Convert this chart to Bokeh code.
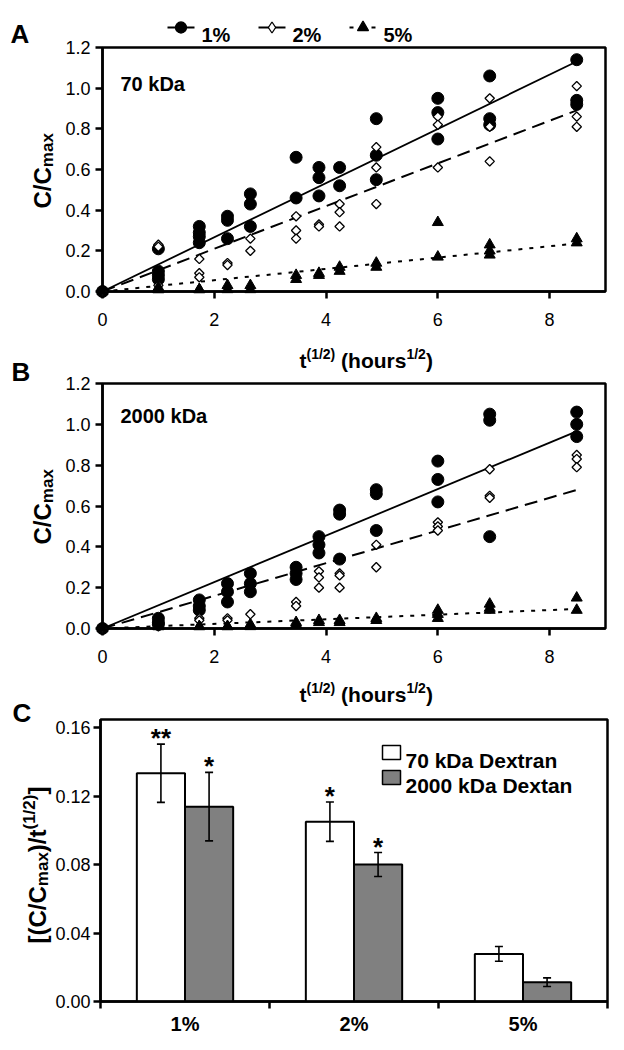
import math
from bokeh.plotting import figure
from bokeh.models import (ColumnDataSource, Range1d, FixedTicker, NumeralTickFormatter,
                          Label, Whisker, TeeHead, GridBox)
from bokeh.embed import file_html
from bokeh.resources import INLINE
from bokeh.core.properties import value

FONT = "Liberation Sans"

# ---------------- data ----------------
hours = [0, 1, 3, 5, 7, 12, 15, 18, 24, 36, 48, 72]
x_ticks = [0, 2, 4, 6, 8]
y_ticks_ab = [0.0, 0.2, 0.4, 0.6, 0.8, 1.0, 1.2]

# Panel A (70 kDa): replicate C/Cmax values per time point
a_1pct = [[0], [0.21, 0.10, 0.08, 0.06], [0.32, 0.29, 0.27, 0.24], [0.37, 0.35, 0.26],
          [0.48, 0.43, 0.32], [0.66, 0.46], [0.61, 0.56, 0.47], [0.61, 0.52],
          [0.85, 0.67, 0.55], [0.95, 0.88, 0.75], [1.06, 0.85, 0.82], [1.14, 0.94, 0.92]]
a_2pct = [[0], [0.23, 0.22, 0.03], [0.16, 0.09, 0.07], [0.14, 0.13], [0.26, 0.20],
          [0.37, 0.30, 0.26], [0.33, 0.32], [0.43, 0.39, 0.32], [0.71, 0.61, 0.43],
          [0.86, 0.82, 0.61], [0.95, 0.81, 0.64], [1.01, 0.86, 0.81]]
a_5pct = [[0], [0.02, 0.01, 0.01], [0.01, 0.01], [0.03, 0.01], [0.03, 0.01], [0.08, 0.06],
          [0.09, 0.08], [0.12, 0.10], [0.14, 0.12], [0.34, 0.17], [0.23, 0.20, 0.18],
          [0.26, 0.24]]

# Panel B (2000 kDa)
b_1pct = [[0], [0.05, 0.03, 0.02], [0.14, 0.11, 0.09], [0.22, 0.18, 0.13], [0.27, 0.22, 0.18],
          [0.30, 0.27, 0.24], [0.45, 0.41, 0.37], [0.58, 0.56, 0.34], [0.68, 0.66, 0.48],
          [0.82, 0.73, 0.62], [1.05, 1.02, 0.45], [1.06, 1.00, 0.94]]
b_2pct = [[0], [0.01], [0.05, 0.04], [0.05, 0.04], [0.07], [0.13, 0.11], [0.28, 0.25, 0.20],
          [0.27, 0.26, 0.20], [0.41, 0.30], [0.52, 0.50, 0.48], [0.78, 0.65, 0.64],
          [0.85, 0.83, 0.79]]
b_5pct = [[0], [0.01, 0.01], [0.01, 0.01], [0.01, 0.01], [0.02, 0.01], [0.03, 0.02],
          [0.04, 0.03], [0.04, 0.03], [0.05, 0.04], [0.09, 0.07, 0.05], [0.12, 0.10, 0.09],
          [0.15, 0.09]]

# Panel C: release rate [(C/Cmax)/t^(1/2)]
categories = ["1%", "2%", "5%"]
rate_70 = [0.1333, 0.1050, 0.0278]
err_70 = [0.0170, 0.0115, 0.0043]
rate_2000 = [0.1138, 0.0800, 0.0113]
err_2000 = [0.0200, 0.0070, 0.0025]
sig_70 = ["**", "*", ""]
sig_2000 = ["*", "*", ""]
y_ticks_c = [0.0, 0.04, 0.08, 0.12, 0.16]

series_labels = ["1%", "2%", "5%"]
bar_labels = ["70 kDa Dextran", "2000 kDa Dextan"]

# ---------------- helpers ----------------
W = {' ': 278, '(': 333, ')': 333, '/': 278, '[': 333, ']': 333, '%': 889, '.': 278, '*': 389,
     'A': 722, 'B': 722, 'C': 722, 'D': 722, 'a': 556, 'e': 556, 'h': 611, 'k': 556,
     'm': 889, 'n': 611, 'o': 611, 'r': 389, 's': 556, 't': 333, 'u': 611, 'x': 556}


def tw(s, size):
    return sum(W.get(c, 556) for c in s) / 1000.0 * size


def flatten(groups):
    xs, ys = [], []
    for h, vals in zip(hours, groups):
        for v in vals:
            xs.append(math.sqrt(h))
            ys.append(v)
    return xs, ys


def style(p):
    p.frame_align = False
    p.xgrid.visible = False
    p.ygrid.visible = False
    p.outline_line_color = "black"
    p.outline_line_width = 2.5
    p.outline_line_alpha = 1.0
    p.background_fill_color = "white"
    p.border_fill_color = "white"
    for ax in (p.xaxis[0], p.yaxis[0]):
        ax.axis_line_width = 2.5
        ax.axis_line_color = "black"
        ax.major_tick_line_width = 2.5
        ax.major_tick_line_color = "black"
        ax.major_tick_out = 7
        ax.major_tick_in = 0
        ax.minor_tick_line_color = None
        ax.major_label_text_font = FONT
        ax.major_label_text_font_size = "18px"
        ax.major_label_text_color = "black"


PAGE_W, PAGE_H = 624, 1049
t_max = math.sqrt(hours[-1])
DASHES = ["solid", "13 7", "4 7"]
WIDTHS = [1.8, 2.0, 2.0]


def scatter_panel(d1, d2, d5, slopes, border_top, frame_h, border_bottom):
    xr, yr = (0, 9), (0, 1.2)
    p = figure(frame_width=503, frame_height=frame_h, min_border_left=102, min_border_right=19,
               min_border_top=border_top, min_border_bottom=border_bottom,
               x_range=Range1d(*xr), y_range=Range1d(*yr), tools="",
               output_backend="svg", toolbar_location=None)
    style(p)
    p.xaxis.ticker = FixedTicker(ticks=x_ticks)
    p.yaxis.ticker = FixedTicker(ticks=y_ticks_ab)
    p.yaxis.formatter = NumeralTickFormatter(format="0.0")
    p.xaxis.major_label_standoff = 14
    p.yaxis.major_label_standoff = 5

    for s, dsh, lw in zip(slopes, DASHES, WIDTHS):
        p.line([0, t_max], [0, s * t_max], line_color="black", line_width=lw, line_dash=dsh)

    x1, y1 = flatten(d1)
    x2, y2 = flatten(d2)
    x5, y5 = flatten(d5)
    p.scatter(x1, y1, marker="circle", size=12, fill_color="black", line_color="black",
              level="overlay")
    p.scatter(x2, y2, marker="square", angle=math.pi / 4, size=6.6, fill_color="white",
              line_color="black", line_width=1.3, level="overlay")
    p.scatter(x5, y5, marker="triangle", size=11, fill_color="black", line_color="black",
              level="overlay")
    return p


# canvas A: 0-370, canvas B: 370-714, canvas C: 714-1049
pA = scatter_panel(a_1pct, a_2pct, a_5pct, rate_70, border_top=47, frame_h=244,
                   border_bottom=79)
pB = scatter_panel(b_1pct, b_2pct, b_5pct, rate_2000, border_top=13, frame_h=245,
                   border_bottom=86)

# ---------------- panel C ----------------
xrc, yrc = (0, len(categories)), (0, 0.1647)
pC = figure(frame_width=507, frame_height=282, min_border_left=100, min_border_right=17,
            min_border_top=5, min_border_bottom=48,
            x_range=Range1d(*xrc), y_range=Range1d(*yrc), tools="",
            output_backend="svg", toolbar_location=None)
style(pC)
centers = [i + 0.5 for i in range(len(categories))]
pC.xaxis.ticker = FixedTicker(ticks=centers, minor_ticks=list(range(len(categories) + 1)))
pC.xaxis.major_label_overrides = {c: lab for c, lab in zip(centers, categories)}
pC.xaxis.major_tick_out = 0
pC.xaxis.minor_tick_line_color = "black"
pC.xaxis.minor_tick_line_width = 2.5
pC.xaxis.minor_tick_out = 7
pC.xaxis.minor_tick_in = 0
pC.xaxis.major_label_text_font_style = "bold"
pC.xaxis.major_label_text_font_size = "20px"
pC.xaxis.major_label_standoff = 4
pC.yaxis.ticker = FixedTicker(ticks=y_ticks_c)
pC.yaxis.formatter = NumeralTickFormatter(format="0.00")
pC.yaxis.major_label_standoff = 3

bw = 0.285
off = bw / 2
src70 = ColumnDataSource(dict(x=[c - off for c in centers], top=rate_70,
                              upper=[r + e for r, e in zip(rate_70, err_70)],
                              lower=[r - e for r, e in zip(rate_70, err_70)], sig=sig_70))
src2000 = ColumnDataSource(dict(x=[c + off for c in centers], top=rate_2000,
                                upper=[r + e for r, e in zip(rate_2000, err_2000)],
                                lower=[r - e for r, e in zip(rate_2000, err_2000)], sig=sig_2000))
BAR_FILLS = ["white", "#808080"]
for src, fill in zip((src70, src2000), BAR_FILLS):
    pC.vbar(x="x", top="top", bottom=0, width=bw, source=src, fill_color=fill,
            line_color="black", line_width=2)
for src in (src70, src2000):
    w = Whisker(source=src, base="x", upper="upper", lower="lower", line_width=1.6,
                line_color="black",
                upper_head=TeeHead(size=8, line_width=1.6, line_color="black"),
                lower_head=TeeHead(size=8, line_width=1.6, line_color="black"),
                level="annotation")
    pC.add_layout(w)
    pC.text(x="x", y="upper", text="sig", source=src, text_font=value(FONT),
            text_font_size="26px", text_font_style="bold", text_align="center",
            text_baseline="alphabetic", y_offset=-6, text_color="black")

# ---------------- overlay for free text and legends ----------------
ov = figure(frame_width=PAGE_W, frame_height=PAGE_H, min_border=0,
            x_range=Range1d(0, PAGE_W), y_range=Range1d(PAGE_H, 0),
            x_axis_location=None, y_axis_location=None, tools="",
            toolbar_location=None, output_backend="svg", outline_line_color=None,
            background_fill_color=None, border_fill_color=None)
ov.frame_align = False
ov.xgrid.visible = False
ov.ygrid.visible = False


def add_text(px, py, text, size, angle=0.0, bold=True, baseline="alphabetic"):
    ov.add_layout(Label(x=px, y=py, text=text, text_font=FONT, text_font_size=f"{size}px",
                        text_font_style="bold" if bold else "normal", angle=angle,
                        text_align="left", text_baseline=baseline, text_color="black"))


def add_rich(px, py, pieces, rotated=False):
    pos = 0.0
    for text, size, shift in pieces:
        core = text.lstrip(" ")
        pos += tw(text[:len(text) - len(core)], size)
        if rotated:
            add_text(px + shift, py - pos, core, size, angle=math.pi / 2)
        else:
            add_text(px + pos, py + shift, core, size)
        pos += tw(core, size)


X_LABEL = [("t", 21, 0), ("(1/2)", 14, -7), (" (hours", 21, 0), ("1/2", 14, -7), (")", 21, 0)]
Y_LABEL_AB = [("C/C", 24, 0), ("max", 17, 5)]
Y_LABEL_C = [("[(C/C", 24, 0), ("max", 17, 5), (")/t", 24, 0), ("(1/2)", 17, -8), ("]", 24, 0)]

# panel letters
add_text(10, 33, "A", 26)
add_text(11, 371, "B", 26)
add_text(12, 712, "C", 26)
# in-panel titles
add_text(120, 83, "70 kDa", 20)
add_text(120, 415, "2000 kDa", 20)
# axis titles
add_rich(299, 360, X_LABEL)
add_rich(299, 694, X_LABEL)
add_rich(42, 208, Y_LABEL_AB, rotated=True)
add_rich(42, 544, Y_LABEL_AB, rotated=True)
add_rich(37, 943, Y_LABEL_C, rotated=True)

# legend of panels A/B (top)
leg_x0 = [167, 258, 349]
leg_y = 27
markers = ["circle", "diamond", "triangle"]
mfills = ["black", "white", "black"]
for x0, lab, dsh, lw, mk, mf in zip(leg_x0, series_labels, ["solid", "11 5", "4 7"],
                                    WIDTHS, markers, mfills):
    ov.line([x0, x0 + 27], [leg_y, leg_y], line_color="black", line_width=lw, line_dash=dsh)
    ov.scatter([x0 + 13.5], [leg_y], marker=mk, size=11, fill_color=mf, line_color="black",
               line_width=1.3)
    add_text(x0 + 34, leg_y + 7, lab, 20)

# legend of panel C
for i, (lab, fill) in enumerate(zip(bar_labels, BAR_FILLS)):
    top = 745 + 25 * i
    ov.quad(left=[382], right=[400], top=[top], bottom=[top + 14], fill_color=fill,
            line_color="black", line_width=1.5)
    add_text(405, top + 15, lab, 21)

grid = GridBox(children=[(pA, 0, 0), (pB, 1, 0), (pC, 2, 0), (ov, 0, 0, 3, 1)])
open("out.html", "w").write(file_html(grid, INLINE))
